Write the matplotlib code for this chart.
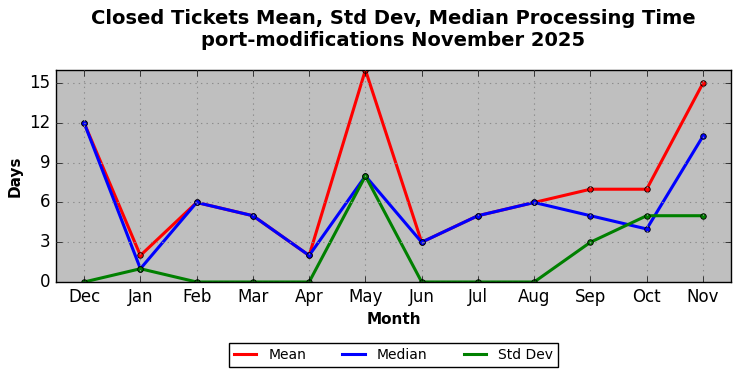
import numpy as np
import matplotlib
matplotlib.use('Agg')
import matplotlib.pyplot as plt

plt.style.use('classic')

months = ['Dec', 'Jan', 'Feb', 'Mar', 'Apr', 'May', 'Jun', 'Jul', 'Aug', 'Sep', 'Oct', 'Nov']
mean = [12, 2, 6, 5, 2, 16, 3, 5, 6, 7, 7, 15]
median = [12, 1, 6, 5, 2, 8, 3, 5, 6, 5, 4, 11]
stddev = [0, 1, 0, 0, 0, 8, 0, 0, 0, 3, 5, 5]

x = np.arange(len(months))

fig = plt.figure(figsize=(7.41, 3.78), dpi=100)
ax = fig.add_axes([0.0756, 0.254, 0.911, 0.561])
ax.set_facecolor('#bfbfbf')

ax.plot(x, mean, color='red', lw=2.2, marker='o', ms=4, mec='black', mew=0.6, label='Mean')
ax.plot(x, median, color='blue', lw=2.2, marker='o', ms=4, mec='black', mew=0.6, label='Median')
ax.plot(x, stddev, color='green', lw=2.2, marker='o', ms=4, mec='black', mew=0.6, label='Std Dev')

ax.set_xlim(-0.5, 11.5)
ax.set_ylim(0, 16)
ax.set_yticks([0, 3, 6, 9, 12, 15])
ax.set_xticks(x)
ax.set_xticklabels(months)
ax.tick_params(labelsize=12)
ax.grid(True, color='#8c8c8c', linestyle=':', linewidth=0.8)

ax.set_xlabel('Month', fontsize=11, fontweight='bold')
ax.set_ylabel('Days', fontsize=11, fontweight='bold')
ax.set_title('Closed Tickets Mean, Std Dev, Median Processing Time\nport-modifications November 2025',
             fontsize=14, fontweight='bold', pad=17)

leg = ax.legend(loc='upper center', bbox_to_anchor=(0.5, -0.257), ncol=3, fontsize=10,
                handlelength=1.6, numpoints=1, columnspacing=2.6, borderpad=0.35,
                handletextpad=0.9)
for h in leg.legend_handles:
    h.set_marker('')

fig.savefig('out.png', dpi=100, facecolor='white')
